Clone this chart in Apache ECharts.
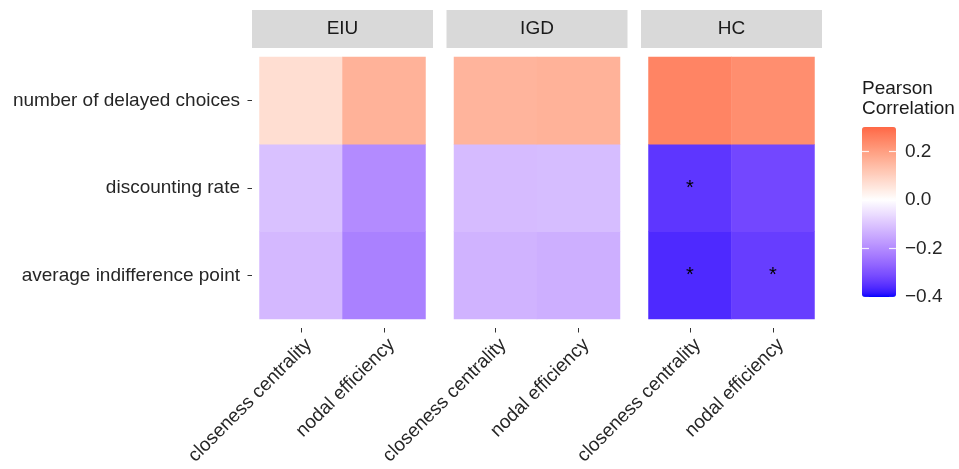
<!DOCTYPE html>
<html>
<head>
<meta charset="utf-8">
<script src="https://cdn.jsdelivr.net/npm/echarts@6/dist/echarts.min.js"></script>
<style>
  html, body { margin: 0; padding: 0; background: #fff; }
  #main { width: 959px; height: 469px; }
</style>
</head>
<body>
<div id="main"></div>
<script>
// Facets, columns and rows of the correlation grid
const groups = ['EIU', 'IGD', 'HC'];
const measures = ['closeness centrality', 'nodal efficiency'];
// rows listed bottom to top (category y axis starts at the bottom)
const outcomes = ['average indifference point', 'discounting rate', 'number of delayed choices'];

// Pearson r per row (outcome), columns follow `measures`
const eiuR = [[-0.121, -0.219], [-0.107, -0.200], [0.070, 0.160]];
const igdR = [[-0.130, -0.137], [-0.116, -0.114], [0.155, 0.160]];
const hcR  = [[-0.362, -0.334], [-0.344, -0.317], [0.250, 0.230]];
// significance flags (1 = marked with an asterisk)
const eiuSig = [[0, 0], [0, 0], [0, 0]];
const igdSig = [[0, 0], [0, 0], [0, 0]];
const hcSig  = [[1, 1], [1, 0], [0, 0]];

// colour bar limits and breaks
const scaleMin = -0.4, scaleMax = 0.3;
const legendBreaks = [-0.4, -0.2, 0, 0.2];

const FONT = '"Liberation Sans", Arial, Helvetica, sans-serif';
const TEXT = '#262626';

// --- diverging blue-white-red palette interpolated in CIELAB ---
function toLin(c) { c /= 255; return c <= 0.04045 ? c / 12.92 : Math.pow((c + 0.055) / 1.055, 2.4); }
function toSrgb(c) {
  c = Math.min(1, Math.max(0, c));
  const v = c <= 0.0031308 ? 12.92 * c : 1.055 * Math.pow(c, 1 / 2.4) - 0.055;
  return Math.round(v * 255);
}
const WX = 0.95047, WY = 1.0, WZ = 1.08883;
function hexToLab(hex) {
  const r = toLin(parseInt(hex.slice(1, 3), 16));
  const g = toLin(parseInt(hex.slice(3, 5), 16));
  const b = toLin(parseInt(hex.slice(5, 7), 16));
  const X = (0.4124 * r + 0.3576 * g + 0.1805 * b) / WX;
  const Y = (0.2126 * r + 0.7152 * g + 0.0722 * b) / WY;
  const Z = (0.0193 * r + 0.1192 * g + 0.9505 * b) / WZ;
  const f = t => t > 0.008856 ? Math.cbrt(t) : 7.787 * t + 16 / 116;
  const fx = f(X), fy = f(Y), fz = f(Z);
  return [116 * fy - 16, 500 * (fx - fy), 200 * (fy - fz)];
}
function labToHex(lab) {
  const fy = (lab[0] + 16) / 116, fx = fy + lab[1] / 500, fz = fy - lab[2] / 200;
  const inv = t => t > 0.206893 ? t * t * t : (t - 16 / 116) / 7.787;
  const X = inv(fx) * WX, Y = inv(fy) * WY, Z = inv(fz) * WZ;
  const r = 3.2406 * X - 1.5372 * Y - 0.4986 * Z;
  const g = -0.9689 * X + 1.8758 * Y + 0.0415 * Z;
  const b = 0.0557 * X - 0.2040 * Y + 1.0570 * Z;
  return '#' + [r, g, b].map(c => toSrgb(c).toString(16).padStart(2, '0')).join('');
}
const labLow = hexToLab('#0000ff'), labMid = hexToLab('#ffffff'), labHigh = hexToLab('#ff0000');
const halfSpan = Math.max(Math.abs(scaleMin), Math.abs(scaleMax));
function fillFor(v) {
  const t = Math.min(1, Math.abs(v) / halfSpan);
  const end = v < 0 ? labLow : labHigh;
  return labToHex(labMid.map((m, i) => m + (end[i] - m) * t));
}
const rampStops = [];
for (let i = 0; i <= 70; i++) rampStops.push(fillFor(scaleMin + (scaleMax - scaleMin) * i / 70));

// --- panel geometry ---
const panelLeft = [252, 446.5, 641];
const panelW = 181;
const stripTop = 10, stripH = 38;
const tileInset = 7.5;
const tileTop = 57, tileH = 262;

const tables = [eiuR, igdR, hcR];
const flags = [eiuSig, igdSig, hcSig];

const grids = [], xAxes = [], yAxes = [], series = [], graphics = [];

groups.forEach((name, g) => {
  grids.push({ left: panelLeft[g] + tileInset, top: tileTop, width: panelW - 2 * tileInset, height: tileH });
  xAxes.push({
    type: 'category', gridIndex: g, data: measures, offset: 9,
    axisLine: { show: false },
    axisTick: { show: true, alignWithLabel: true, length: 4.5, lineStyle: { color: '#333', width: 1 } },
    // an empty first line drops each rotated label so its upper corner sits at the tick
    axisLabel: {
      rotate: 45, fontSize: 19, lineHeight: 22, color: TEXT, fontFamily: FONT, margin: 6,
      formatter: v => ' \n' + v
    },
    splitLine: { show: false }
  });
  yAxes.push({
    type: 'category', gridIndex: g, data: outcomes, offset: 7.5, show: g === 0,
    axisLine: { show: false },
    axisTick: { show: true, alignWithLabel: true, length: 4.5, lineStyle: { color: '#333', width: 1 } },
    axisLabel: { fontSize: 19, color: TEXT, fontFamily: FONT, margin: 12 },
    splitLine: { show: false }
  });
  const data = [];
  tables[g].forEach((row, yi) => row.forEach((v, xi) => data.push([xi, yi, v, flags[g][yi][xi]])));
  series.push({
    type: 'heatmap', xAxisIndex: g, yAxisIndex: g, data,
    label: {
      show: true, fontSize: 20, color: '#000', fontFamily: FONT,
      formatter: p => (p.data[3] ? '*' : '')
    },
    emphasis: { disabled: true },
    itemStyle: { borderWidth: 0 }
  });
  // facet strip
  graphics.push({
    type: 'rect', shape: { x: panelLeft[g], y: stripTop, width: panelW, height: stripH },
    style: { fill: '#d9d9d9' }, silent: true
  });
  graphics.push({
    type: 'text', x: panelLeft[g] + panelW / 2, y: stripTop + stripH / 2,
    style: { text: name, fontSize: 19, fill: '#1a1a1a', fontFamily: FONT, align: 'center', verticalAlign: 'middle' },
    silent: true
  });
});

// colour bar grid: value axis carries the break labels
const barLeft = 862, barTop = 127, barW = 34, barH = 170;
const legendGrid = grids.length;
const legendAxis = yAxes.length;
grids.push({ left: barLeft, top: barTop, width: barW, height: barH });
xAxes.push({ type: 'value', gridIndex: legendGrid, show: false });
const fmt = v => (v < 0 ? '\u2212' : '') + Math.abs(v).toFixed(1);
yAxes.push({
  type: 'value', gridIndex: legendGrid, position: 'right', min: scaleMin, max: scaleMax,
  axisLine: { show: false }, splitLine: { show: false }, axisTick: { show: false },
  axisLabel: { show: true, customValues: legendBreaks, formatter: fmt, fontSize: 19, color: TEXT, fontFamily: FONT, margin: 9 }
});

graphics.push({
  type: 'text', x: barLeft, y: 79,
  style: { text: 'Pearson\nCorrelation', fontSize: 19, lineHeight: 20, fill: '#1a1a1a', fontFamily: FONT, align: 'left', verticalAlign: 'top' },
  silent: true
});

const chart = echarts.init(document.getElementById('main'), null, { renderer: 'canvas' });
chart.setOption({
  animation: false,
  backgroundColor: '#fff',
  grid: grids,
  xAxis: xAxes,
  yAxis: yAxes,
  visualMap: {
    type: 'continuous', seriesIndex: [0, 1, 2], dimension: 2,
    min: scaleMin, max: scaleMax, calculable: false, hoverLink: false,
    orient: 'vertical', left: barLeft, top: barTop, itemWidth: barW, itemHeight: barH,
    padding: 0, text: null, showLabel: false, z: 1,
    inRange: { color: rampStops }
  },
  series,
  graphic: graphics
});

// white break marks on both edges of the colour bar, placed through the legend axis scale
const tickLen = 7;
legendBreaks.forEach(v => {
  const y = Math.round(chart.convertToPixel({ yAxisIndex: legendAxis }, v)) + 0.5;
  [[barLeft, barLeft + tickLen], [barLeft + barW - tickLen, barLeft + barW]].forEach(([x1, x2]) => {
    graphics.push({
      type: 'line', z: 20, silent: true,
      shape: { x1, y1: y, x2, y2: y },
      style: { stroke: '#ffffff', lineWidth: 1.2, opacity: 0.85 }
    });
  });
});
chart.setOption({ graphic: graphics });
</script>
</body>
</html>
